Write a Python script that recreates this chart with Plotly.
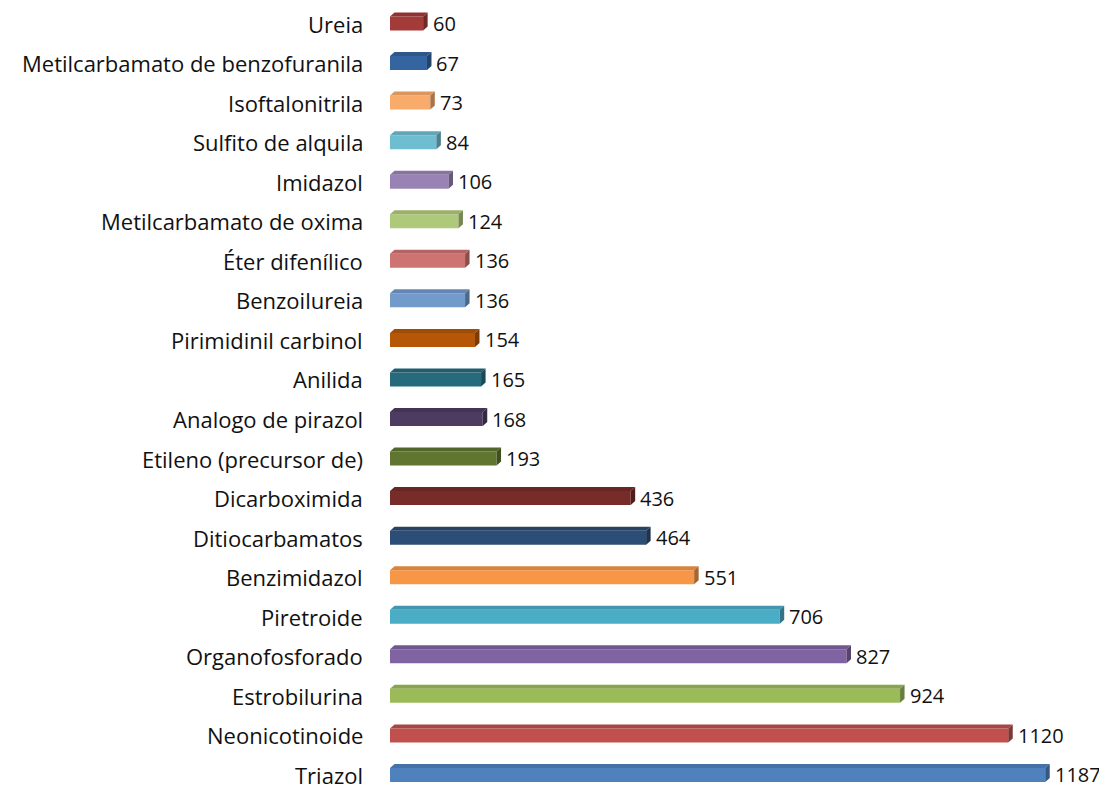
import plotly.graph_objects as go

categories = ["Ureia", "Metilcarbamato de benzofuranila", "Isoftalonitrila", "Sulfito de alquila",
              "Imidazol", "Metilcarbamato de oxima", "Éter difenílico", "Benzoilureia",
              "Pirimidinil carbinol", "Anilida", "Analogo de pirazol", "Etileno (precursor de)",
              "Dicarboximida", "Ditiocarbamatos", "Benzimidazol", "Piretroide", "Organofosforado",
              "Estrobilurina", "Neonicotinoide", "Triazol"]
values = [60, 67, 73, 84, 106, 124, 136, 136, 154, 165, 168, 193,
          436, 464, 551, 706, 827, 924, 1120, 1187]
colors = ["#A33B39", "#3565A0", "#F9AB6B", "#6FBDD1", "#9983B5", "#AFC97A", "#CD7371", "#729ACA",
          "#B65708", "#276A7C", "#4D3B62", "#5F7530", "#772C2A", "#2C4D75", "#F79646", "#4BACC6",
          "#8064A2", "#9BBB59", "#C0504D", "#4F81BD"]


def shade(hexc, f):
    h = hexc.lstrip("#")
    r, g, b = (int(h[i:i + 2], 16) for i in (0, 2, 4))
    return "#%02X%02X%02X" % (int(r * f), int(g * f), int(b * f))


idx = list(range(len(categories)))
OFF = 8  # page body margin
W = 1107 - OFF
H = 789 - OFF
L = 390 - OFF
px_per_unit = 0.552
xmax = (W - L) / px_per_unit
row_px = 39.55
first_px = 23.5 - OFF
bar_w = 0.354
dx = 4.5 / px_per_unit
dy = 4.0 / row_px
FONT = "Open Sans, sans-serif"

fig = go.Figure()
fig.add_trace(go.Bar(
    x=values, y=idx, orientation="h", width=bar_w,
    marker=dict(color=colors, line=dict(width=0)),
    hoverinfo="skip", showlegend=False,
))

shapes = []
annotations = []
for i, v, c, name in zip(idx, values, colors, categories):
    yt = i - bar_w / 2
    yb = i + bar_w / 2
    top = f"M 0,{yt} L {dx},{yt - dy} L {v + dx},{yt - dy} L {v},{yt} Z"
    side = f"M {v},{yt} L {v + dx},{yt - dy} L {v + dx},{yb - dy} L {v},{yb} Z"
    shapes.append(dict(type="path", path=top, xref="x", yref="y",
                       fillcolor=shade(c, 0.88), line=dict(width=0), layer="above"))
    shapes.append(dict(type="path", path=side, xref="x", yref="y",
                       fillcolor=shade(c, 0.68), line=dict(width=0), layer="above"))
    annotations.append(dict(x=v + dx, y=i, xref="x", yref="y", text=str(v),
                            showarrow=False, xanchor="left", xshift=4, borderpad=0,
                            font=dict(family=FONT, size=20, color="#111111")))
    annotations.append(dict(x=0, y=i, xref="paper", yref="y", text=name,
                            showarrow=False, xanchor="right", xshift=-26, borderpad=0,
                            font=dict(family=FONT, size=22, color="#111111")))

fig.update_layout(
    width=W, height=H,
    margin=dict(l=L, r=0, t=0, b=0),
    paper_bgcolor="white", plot_bgcolor="white",
    shapes=shapes, annotations=annotations,
    xaxis=dict(range=[0, xmax], visible=False, showgrid=False, zeroline=False),
    yaxis=dict(range=[(H - first_px) / row_px, -first_px / row_px],
               showticklabels=False, showgrid=False, zeroline=False,
               showline=False, ticks=""),
)

fig.write_html("out.html")
